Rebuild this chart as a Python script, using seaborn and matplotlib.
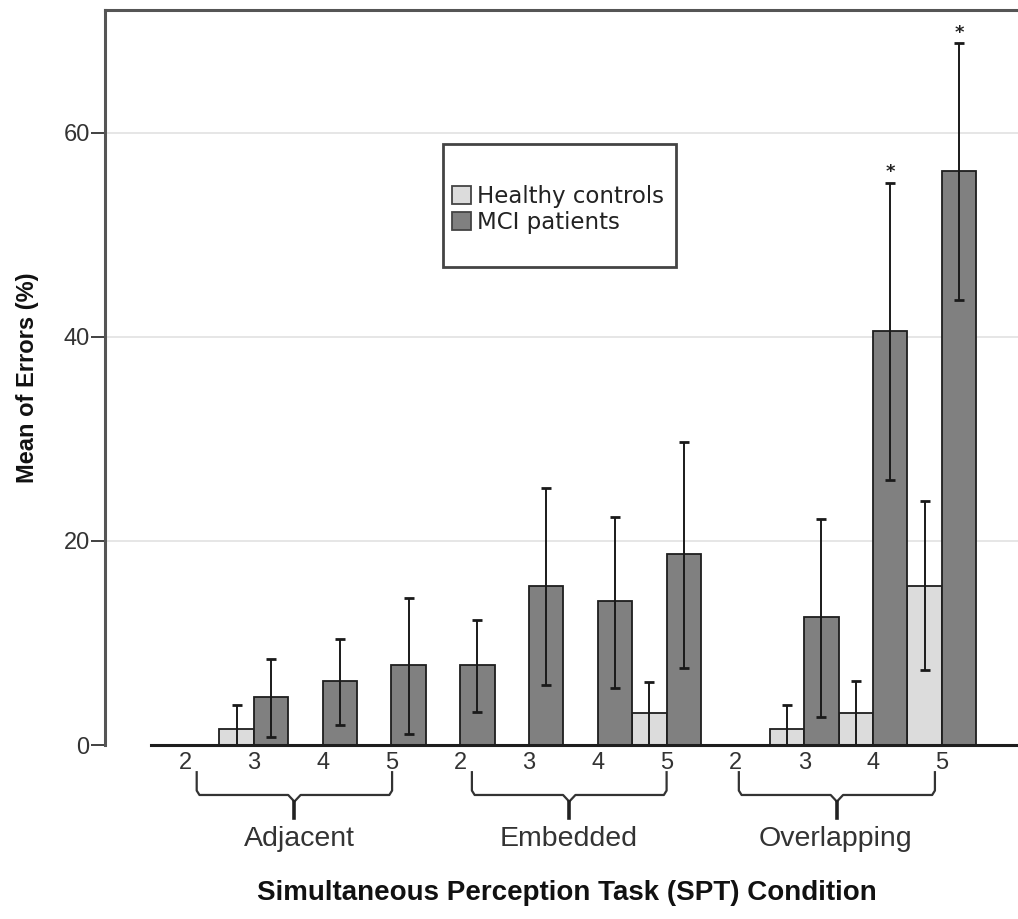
import numpy as np
import pandas as pd
import matplotlib
matplotlib.use('Agg')
from matplotlib import pyplot as plt
from matplotlib.patches import Patch, Rectangle
import matplotlib.transforms as mtransforms
import seaborn as sns

### data ###
conditions = ['Adjacent', 'Embedded', 'Overlapping']
set_sizes = ['2', '3', '4', '5']
groups = ['Healthy controls', 'MCI patients']

healthy_mean = [0, 1.56, 0, 0, 0, 0, 0, 3.13, 0, 1.56, 3.13, 15.6]
healthy_lo = [np.nan, 0, np.nan, np.nan, np.nan, np.nan, np.nan, 0, np.nan, 0, 0, 7.3]
healthy_hi = [np.nan, 3.9, np.nan, np.nan, np.nan, np.nan, np.nan, 6.2, np.nan, 3.9, 6.3, 23.9]

mci_mean = [0, 4.69, 6.25, 7.81, 7.81, 15.6, 14.06, 18.75, 0, 12.5, 40.6, 56.25]
mci_lo = [np.nan, 0.8, 2.0, 1.1, 3.2, 5.9, 5.6, 7.5, np.nan, 2.7, 26.0, 43.6]
mci_hi = [np.nan, 8.4, 10.4, 14.4, 12.2, 25.2, 22.3, 29.7, np.nan, 22.1, 55.1, 68.8]

significant = [10, 11]   # MCI bars marked with *

colors = {'Healthy controls': '#dcdcdc', 'MCI patients': '#808080'}

cells = [c + ' ' + s for c in conditions for s in set_sizes]
df = pd.DataFrame({
    'cell': cells * 2,
    'group': [groups[0]] * 12 + [groups[1]] * 12,
    'mean': healthy_mean + mci_mean,
})

plt.rcParams['font.family'] = ['Liberation Sans', 'DejaVu Sans']
fig = plt.figure(figsize=(10.18, 9.19), dpi=100)
ax = fig.add_axes([105 / 1018, 1 - 745 / 919, 913 / 1018, 735 / 919])

sns.barplot(data=df, x='cell', y='mean', hue='group', order=cells, hue_order=groups,
            palette=colors, errorbar=None, width=1.0, edgecolor='#1e1e1e',
            linewidth=1.3, legend=False, ax=ax, zorder=3)

pos = np.arange(len(cells))
for offs, m, lo, hi in [(-0.25, healthy_mean, healthy_lo, healthy_hi),
                        (0.25, mci_mean, mci_lo, mci_hi)]:
    m = np.array(m, float)
    lo = np.array(lo, float)
    hi = np.array(hi, float)
    ok = ~np.isnan(lo)
    ax.errorbar(pos[ok] + offs, m[ok], yerr=[m[ok] - lo[ok], hi[ok] - m[ok]], fmt='none',
                ecolor='#1a1a1a', elinewidth=1.4, capsize=3.8, capthick=2, zorder=4)

for i in significant:
    ax.text(pos[i] + 0.25, mci_hi[i] + 0.5, '*', ha='center', va='baseline',
            fontsize=13, fontweight='bold', color='#222222', family='DejaVu Sans')

ax.set_xlim(-80 / 68.8, -80 / 68.8 + 913 / 68.8)
ax.set_ylim(0, 72)
ax.set_yticks([0, 20, 40, 60])
ax.set_xticks(pos)
ax.set_xticklabels(set_sizes * 3)
ax.set_xlabel('')
ax.set_ylabel('')

ax.grid(axis='y', color='#e2e2e2', linewidth=1.2, zorder=0)
ax.get_ygridlines()[0].set_visible(False)
ax.set_axisbelow(True)

for side in ['right', 'bottom']:
    ax.spines[side].set_visible(False)
for side in ['left', 'top']:
    ax.spines[side].set_color('#555555')
    ax.spines[side].set_linewidth(2.2)

ax.tick_params(axis='y', length=10, width=1.3, color='#333333', pad=1,
               labelsize=17, labelcolor='#333333')
ax.tick_params(axis='x', length=0, pad=5, labelsize=17, labelcolor='#333333')

# baseline under the bars
xl = ax.get_xlim()
ax.axhline(0, xmin=(-0.5 - xl[0]) / (xl[1] - xl[0]), xmax=1, color='#1e1e1e',
           linewidth=2.2, zorder=5, clip_on=False)

# brackets + group labels below the axis
bracket_start = [0.17, 4.17, 8.05]
bracket_end = [3.01, 7.0, 10.9]
label_x = [1.67, 5.57, 9.46]
trans = mtransforms.blended_transform_factory(ax.transData, ax.transAxes)
for g, name in enumerate(conditions):
    x0 = bracket_start[g]
    x1 = bracket_end[g]
    xc = (x0 + x1) / 2
    yt, yh, yn = -0.037, -0.068, -0.099
    xs = [x0, x0, x0 + 0.04, xc - 0.09, xc, xc + 0.09, x1 - 0.04, x1, x1]
    ys = [yt, yh + 0.006, yh, yh, yh - 0.009, yh, yh, yh + 0.006, yt]
    ax.plot(xs, ys, color='#333333', linewidth=1.6, transform=trans, clip_on=False)
    ax.plot([xc, xc], [yh - 0.009, yn], color='#222222', linewidth=2.6,
            transform=trans, clip_on=False)
    ax.text(label_x[g], -0.128, name, transform=trans, ha='center', va='center',
            fontsize=20.5, color='#333333')

# legend in a box with empty space below the entries
ax.add_patch(Rectangle((338 / 913, (745 - 267) / 735), 233 / 913, 123 / 735,
                       transform=ax.transAxes, fill=False, edgecolor='#444444',
                       linewidth=2, zorder=6))
handles = [Patch(facecolor=colors[g], edgecolor='#444444', linewidth=1.3) for g in groups]
leg = ax.legend(handles, groups, loc='upper left',
                bbox_to_anchor=((452 - 105) / 913, (745 - 185) / 735),
                frameon=False, borderaxespad=0, borderpad=0, handlelength=0.85,
                handleheight=0.85, handletextpad=0.25, labelspacing=0.12,
                prop={'family': 'DejaVu Sans', 'size': 16.5})
for t in leg.get_texts():
    t.set_color('#222222')

fig.text(28 / 1018, 1 - 378 / 919, 'Mean of Errors (%)', rotation=90, ha='center',
         va='center', fontsize=17, fontweight='bold', color='#111111')
fig.text(567 / 1018, 1 - 893 / 919, 'Simultaneous Perception Task (SPT) Condition',
         ha='center', va='center', fontsize=20, fontweight='bold', color='#111111')

plt.savefig('out.png', dpi=100)
